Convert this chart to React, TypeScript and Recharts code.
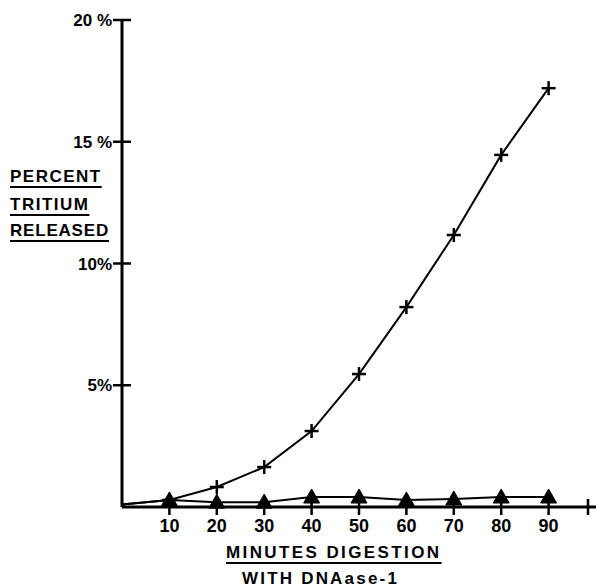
import React from 'react';
import { LineChart, Line, XAxis, YAxis } from 'recharts';

// minutes of digestion with DNAase-1
const minutes = [0, 10, 20, 30, 40, 50, 60, 70, 80, 90];
// percent tritium released, "+" series
const releasedPlus = [0.1, 0.29, 0.82, 1.64, 3.12, 5.46, 8.21, 11.17, 14.46, 17.2];
// percent tritium released, triangle series
const releasedTriangle = [0.1, 0.29, 0.2, 0.2, 0.41, 0.41, 0.29, 0.33, 0.41, 0.41];

const xTicks = [10, 20, 30, 40, 50, 60, 70, 80, 90, 100];
const xTickLabels = ['10', '20', '30', '40', '50', '60', '70', '80', '90', ''];
const yTicks = [5, 10, 15, 20];
const yTickLabels = ['5%', '10%', '15 %', '20 %'];

const data = minutes.map((m, i) => ({
  min: m,
  plus: releasedPlus[i],
  tri: releasedTriangle[i],
}));

const FONT = '"Liberation Sans", Arial, sans-serif';

const PlusDot = (props: any) => {
  const { cx, cy, payload } = props;
  if (payload.min === 0) return <g />;
  return (
    <g stroke="#000" strokeWidth={2.5}>
      <line x1={cx - 7} y1={cy} x2={cx + 7} y2={cy} />
      <line x1={cx} y1={cy - 7} x2={cx} y2={cy + 7} />
    </g>
  );
};

const TriangleDot = (props: any) => {
  const { cx, cy, payload } = props;
  if (payload.min === 0) return <g />;
  return (
    <polygon
      points={`${cx},${cy - 8} ${cx - 8},${cy + 6} ${cx + 8},${cy + 6}`}
      fill="#000"
      stroke="#000"
      strokeWidth={1}
    />
  );
};

const YTick = (props: any) => {
  const { x, y, payload } = props;
  const idx = yTicks.indexOf(payload.value);
  return (
    <g>
      <line x1={x - 9} y1={y} x2={x + 9} y2={y} stroke="#000" strokeWidth={2.5} />
      <text x={x - 10} y={y} dy={6} textAnchor="end" fontFamily={FONT} fontWeight={700} fontSize={17} fill="#000">
        {yTickLabels[idx]}
      </text>
    </g>
  );
};

const XTick = (props: any) => {
  const { x, y, payload } = props;
  const idx = xTicks.indexOf(payload.value);
  return (
    <g>
      <line x1={x} y1={y - 8} x2={x} y2={y + 8} stroke="#000" strokeWidth={2.5} />
      <text x={x} y={y + 25} textAnchor="middle" fontFamily={FONT} fontWeight={700} fontSize={18} fill="#000">
        {xTickLabels[idx]}
      </text>
    </g>
  );
};

const labelStyle: React.CSSProperties = {
  position: 'absolute',
  fontFamily: FONT,
  fontWeight: 700,
  fontSize: 17,
  letterSpacing: 1.5,
  textDecoration: 'underline',
  textUnderlineOffset: 4,
  textDecorationThickness: 2,
  lineHeight: '20px',
  color: '#000',
  whiteSpace: 'nowrap',
};

export default function App() {
  return (
    <div style={{ position: 'absolute', left: 0, top: 0, width: 600, height: 588, background: '#fff' }}>
      <LineChart width={600} height={588} data={data} margin={{ top: 20, right: 4, left: 62, bottom: 51 }}>
        <XAxis
          dataKey="min"
          type="number"
          domain={[0, 100]}
          ticks={xTicks}
          tick={<XTick />}
          tickSize={0}
          tickMargin={0}
          height={30}
          axisLine={{ stroke: '#000', strokeWidth: 3 }}
          tickLine={false}
        />
        <YAxis
          type="number"
          domain={[0, 20]}
          ticks={yTicks}
          tick={<YTick />}
          tickSize={0}
          tickMargin={0}
          width={60}
          axisLine={{ stroke: '#000', strokeWidth: 3 }}
          tickLine={false}
        />
        <Line
          dataKey="tri"
          stroke="#000"
          strokeWidth={2}
          dot={<TriangleDot />}
          activeDot={false}
          isAnimationActive={false}
        />
        <Line
          dataKey="plus"
          stroke="#000"
          strokeWidth={2}
          dot={<PlusDot />}
          activeDot={false}
          isAnimationActive={false}
        />
      </LineChart>
      <div style={{ ...labelStyle, left: 10, top: 167 }}>PERCENT</div>
      <div style={{ ...labelStyle, left: 10, top: 195 }}>TRITIUM</div>
      <div style={{ ...labelStyle, left: 10, top: 221, letterSpacing: 0.8 }}>RELEASED</div>
      <div style={{ ...labelStyle, left: 226, top: 543, letterSpacing: 2.4 }}>MINUTES DIGESTION</div>
      <div style={{ ...labelStyle, left: 242, top: 569, textDecoration: 'none', letterSpacing: 2.2 }}>WITH DNAase-1</div>
    </div>
  );
}
